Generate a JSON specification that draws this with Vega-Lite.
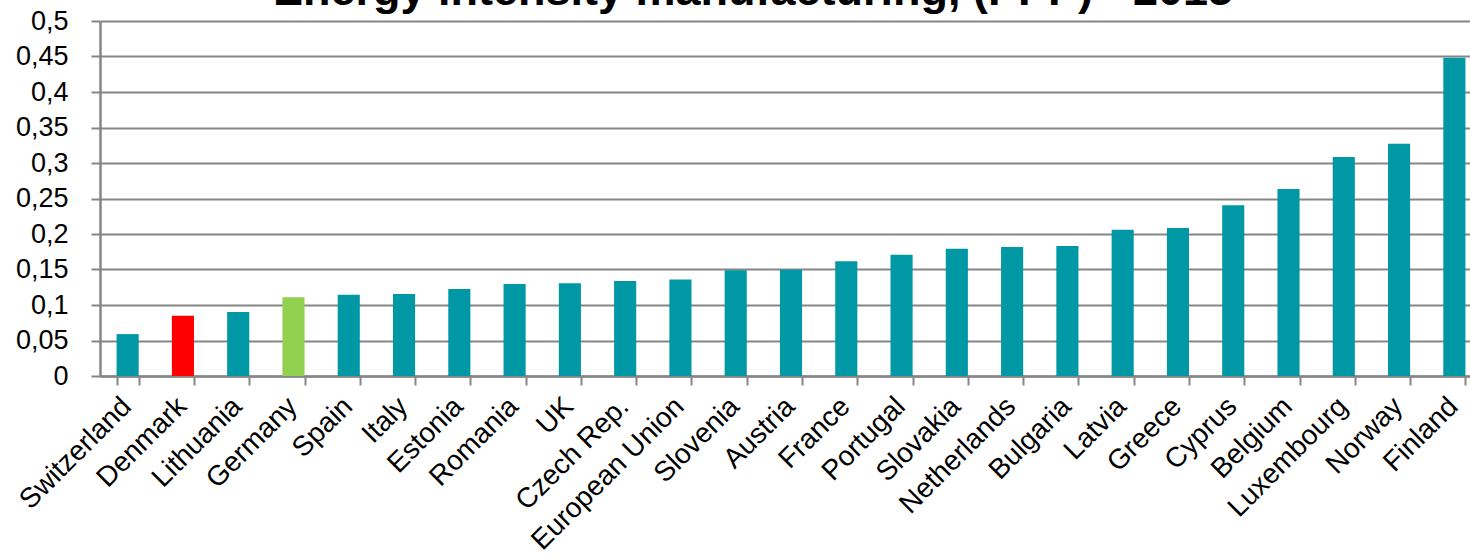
{
  "$schema": "https://vega.github.io/schema/vega-lite/v6.json",
  "autosize": {"type": "none"},
  "width": 1370,
  "height": 355,
  "padding": {"left": 100, "top": 21, "right": 0, "bottom": 184},
  "background": "white",
  "config": {
    "view": {"stroke": null},
    "font": "Liberation Sans"
  },
  "title": {
    "text": "Energy intensity manufacturing, (PPP) - 2015",
    "font": "Liberation Sans",
    "fontSize": 45,
    "fontWeight": "bold",
    "color": "#000000",
    "anchor": "middle",
    "frame": "group",
    "baseline": "alphabetic",
    "offset": 0,
    "dy": 43,
    "dx": -32
  },
  "data": {
    "values": [
      {"country": "Switzerland", "value": 0.059, "group": "other"},
      {"country": "Denmark", "value": 0.085, "group": "Denmark"},
      {"country": "Lithuania", "value": 0.090, "group": "other"},
      {"country": "Germany", "value": 0.111, "group": "Germany"},
      {"country": "Spain", "value": 0.1145, "group": "other"},
      {"country": "Italy", "value": 0.1155, "group": "other"},
      {"country": "Estonia", "value": 0.1225, "group": "other"},
      {"country": "Romania", "value": 0.1296, "group": "other"},
      {"country": "UK", "value": 0.1305, "group": "other"},
      {"country": "Czech Rep.", "value": 0.1338, "group": "other"},
      {"country": "European Union", "value": 0.136, "group": "other"},
      {"country": "Slovenia", "value": 0.149, "group": "other"},
      {"country": "Austria", "value": 0.1497, "group": "other"},
      {"country": "France", "value": 0.1615, "group": "other"},
      {"country": "Portugal", "value": 0.1709, "group": "other"},
      {"country": "Slovakia", "value": 0.1793, "group": "other"},
      {"country": "Netherlands", "value": 0.1817, "group": "other"},
      {"country": "Bulgaria", "value": 0.183, "group": "other"},
      {"country": "Latvia", "value": 0.206, "group": "other"},
      {"country": "Greece", "value": 0.2085, "group": "other"},
      {"country": "Cyprus", "value": 0.2404, "group": "other"},
      {"country": "Belgium", "value": 0.2634, "group": "other"},
      {"country": "Luxembourg", "value": 0.3085, "group": "other"},
      {"country": "Norway", "value": 0.3272, "group": "other"},
      {"country": "Finland", "value": 0.4483, "group": "other"}
    ]
  },
  "mark": {"type": "bar"},
  "encoding": {
    "x": {
      "field": "country",
      "type": "nominal",
      "sort": null,
      "scale": {"range": [0, 1382], "paddingInner": 0.6, "paddingOuter": 0.3},
      "axis": {
        "title": null,
        "labelAngle": -45,
        "labelAlign": "right",
        "labelBaseline": "middle",
        "labelFont": "Liberation Sans",
        "labelFontSize": 28,
        "labelColor": "#000000",
        "labelPadding": 17,
        "labelOffset": -1,
        "labelLimit": 0,
        "tickBand": "extent",
        "tickSize": 9,
        "tickColor": "#868686",
        "tickWidth": 2,
        "domainColor": "#868686",
        "domainWidth": 2.5,
        "grid": false,
        "labelOverlap": false
      }
    },
    "y": {
      "field": "value",
      "type": "quantitative",
      "scale": {"domain": [0, 0.5], "nice": false},
      "axis": {
        "title": null,
        "values": [0, 0.05, 0.1, 0.15, 0.2, 0.25, 0.3, 0.35, 0.4, 0.45, 0.5],
        "labelExpr": "replace(format(datum.value, '.2~f'), '.', ',')",
        "labelFont": "Liberation Sans",
        "labelFontSize": 27,
        "labelColor": "#000000",
        "labelPadding": 23,
        "tickSize": 9,
        "tickColor": "#868686",
        "tickWidth": 2,
        "domainColor": "#868686",
        "domainWidth": 2.5,
        "grid": true,
        "gridColor": "#868686",
        "gridWidth": 2
      }
    },
    "color": {
      "field": "group",
      "type": "nominal",
      "scale": {"domain": ["other", "Denmark", "Germany"], "range": ["#0198A6", "#FF0000", "#92D050"]},
      "legend": null
    }
  }
}
